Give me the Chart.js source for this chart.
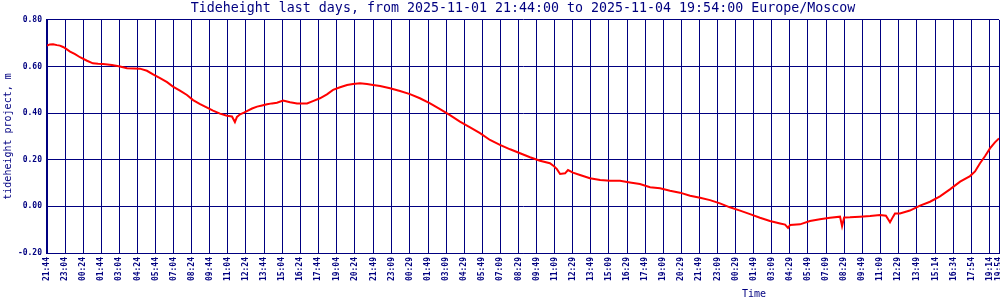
<!DOCTYPE html>
<html>
<head>
<meta charset="utf-8">
<script src="https://cdn.jsdelivr.net/npm/chart.js@4"></script>
<style>
  html, body { margin: 0; padding: 0; background: #fff; overflow: hidden; }
  #tideChart { display: block; }
</style>
</head>
<body>
<canvas id="tideChart" width="1000" height="300"></canvas>
<script>
// Chart data
const chartTitle = 'Tideheight last days, from 2025-11-01 21:44:00 to 2025-11-04 19:54:00 Europe/Moscow';
const startTime = '21:44';

// x tick labels, in order (clock times, day rolls over at midnight)
const tickLabels = [
    '21:44', '23:04', '00:24', '01:44', '03:04', '04:24', '05:44', '07:04', '08:24', '09:44',
    '11:04', '12:24', '13:44', '15:04', '16:24', '17:44', '19:04', '20:24', '21:49', '23:09',
    '00:29', '01:49', '03:09', '04:29', '05:49', '07:09', '08:29', '09:49', '11:09', '12:29',
    '13:49', '15:09', '16:29', '17:49', '19:09', '20:29', '21:49', '23:09', '00:29', '01:49',
    '03:09', '04:29', '05:49', '07:09', '08:29', '09:49', '11:09', '12:29', '13:49', '15:14',
    '16:34', '17:54', '19:14', '19:54'
];

// y ticks
const yTicks = [-0.20, 0.00, 0.20, 0.40, 0.60, 0.80];

// samples: minutes since 2025-11-01 21:44 and tide height in m
const sampleMinutes = [
    0, 13, 27, 44, 57, 71, 80, 102, 124, 146, 177, 203, 226, 248, 287, 323, 354, 385, 411, 442,
    469, 500, 531, 557, 588, 619, 646, 677, 708, 734, 765, 796, 818, 831, 840, 854, 871, 884, 907, 929,
    951, 973, 995, 1017, 1044, 1075, 1106, 1119, 1150, 1176, 1207, 1238, 1265, 1296, 1327, 1353, 1384, 1415, 1442, 1473,
    1517, 1561, 1605, 1649, 1694, 1738, 1782, 1826, 1871, 1915, 1959, 2003, 2048, 2092, 2136, 2180, 2224, 2242, 2255, 2269,
    2291, 2304, 2326, 2357, 2401, 2446, 2490, 2534, 2578, 2622, 2667, 2711, 2755, 2799, 2844, 2888, 2932, 2976, 3020, 3065,
    3109, 3153, 3197, 3242, 3264, 3277, 3286, 3330, 3374, 3418, 3463, 3507, 3516, 3525, 3551, 3595, 3640, 3684, 3710, 3728,
    3741, 3750, 3772, 3816, 3861, 3905, 3949, 3993, 4038, 4082, 4104, 4126, 4148, 4170, 4192, 4210
];
const tideHeight = [
    0.690, 0.695, 0.696, 0.692, 0.690, 0.684, 0.679, 0.664, 0.653, 0.640, 0.625, 0.614, 0.612, 0.611, 0.607, 0.600, 0.593, 0.592, 0.591, 0.582,
    0.567, 0.550, 0.533, 0.514, 0.497, 0.478, 0.456, 0.439, 0.424, 0.411, 0.398, 0.389, 0.386, 0.362, 0.384, 0.395, 0.402, 0.409, 0.420, 0.428,
    0.433, 0.438, 0.442, 0.445, 0.454, 0.447, 0.442, 0.441, 0.442, 0.452, 0.464, 0.481, 0.500, 0.511, 0.521, 0.525, 0.528, 0.525, 0.521, 0.517,
    0.507, 0.495, 0.482, 0.464, 0.442, 0.417, 0.392, 0.364, 0.339, 0.314, 0.285, 0.264, 0.245, 0.228, 0.211, 0.196, 0.185, 0.172, 0.160, 0.139,
    0.142, 0.156, 0.145, 0.135, 0.121, 0.113, 0.110, 0.110, 0.103, 0.096, 0.082, 0.078, 0.067, 0.059, 0.046, 0.037, 0.027, 0.013, -0.004, -0.018,
    -0.033, -0.049, -0.063, -0.073, -0.078, -0.092, -0.080, -0.077, -0.063, -0.055, -0.049, -0.044, -0.085, -0.048, -0.047, -0.044, -0.041, -0.037, -0.040, -0.068,
    -0.045, -0.030, -0.030, -0.018, 0.003, 0.020, 0.043, 0.073, 0.106, 0.130, 0.150, 0.185, 0.215, 0.249, 0.275, 0.292
];

const navy = '#000080';
const monoFont = "'DejaVu Sans Mono', 'Liberation Mono', monospace";

// Turn clock labels into minutes since start (handles midnight rollover)
function toMinutes(t) {
    const parts = t.split(':').map(Number);
    return parts[0] * 60 + parts[1];
}
const startMin = toMinutes(startTime);
let dayShift = 0, lastClock = null;
const tickMinutes = tickLabels.map(t => {
    const clock = toMinutes(t);
    if (lastClock !== null && clock < lastClock) dayShift += 1440;
    lastClock = clock;
    return clock + dayShift - startMin;
});

// Small caption under the time axis (sits off-centre in the original)
const axisCaption = {
    id: 'axisCaption',
    afterDraw(chart) {
        const ctx = chart.ctx;
        ctx.save();
        ctx.font = '10px ' + monoFont;
        ctx.fillStyle = navy;
        ctx.textAlign = 'left';
        ctx.textBaseline = 'middle';
        ctx.fillText('Time', 742, 294);
        ctx.restore();
    }
};

const ctx = document.getElementById('tideChart').getContext('2d');
const tideChart = new Chart(ctx, {
    type: 'line',
    data: {
        datasets: [{
            label: 'tideheight project',
            data: sampleMinutes.map((m, i) => ({ x: m, y: tideHeight[i] })),
            borderColor: '#ff0000',
            borderWidth: 2,
            pointRadius: 0,
            tension: 0,
            fill: false
        }]
    },
    options: {
        responsive: false,
        animation: false,
        layout: { padding: { left: 0, right: 1, top: 0, bottom: 0 } },
        plugins: {
            legend: { display: false },
            tooltip: { enabled: false },
            title: {
                display: true,
                text: chartTitle,
                color: navy,
                fullSize: false,
                font: { family: monoFont, size: 13.3, weight: 'normal' },
                padding: { top: 1, bottom: 3 }
            }
        },
        scales: {
            x: {
                type: 'linear',
                min: tickMinutes[0],
                max: tickMinutes[tickMinutes.length - 1],
                afterBuildTicks: scale => {
                    scale.ticks = tickMinutes.map(v => ({ value: v }));
                },
                afterFit: scale => {
                    scale.height = 47;
                    scale.paddingLeft = 0;
                    scale.paddingRight = 0;
                },
                ticks: {
                    autoSkip: false,
                    minRotation: 90,
                    maxRotation: 90,
                    padding: 4,
                    color: navy,
                    font: { family: monoFont, size: 8, weight: 'bold' },
                    callback: (value, index) => tickLabels[index]
                },
                grid: { color: navy, lineWidth: 1, drawTicks: false },
                border: { color: navy, width: 1 }
            },
            y: {
                type: 'linear',
                min: yTicks[0],
                max: yTicks[yTicks.length - 1],
                afterBuildTicks: scale => {
                    scale.ticks = yTicks.map(v => ({ value: v }));
                },
                afterFit: scale => {
                    scale.width = 47;
                    scale.paddingTop = 0;
                    scale.paddingBottom = 0;
                },
                ticks: {
                    padding: 5,
                    color: navy,
                    font: { family: monoFont, size: 8, weight: 'bold' },
                    callback: value => value.toFixed(2)
                },
                grid: { color: navy, lineWidth: 1, drawTicks: false },
                border: { color: navy, width: 2 },
                title: {
                    display: true,
                    text: 'tideheight project, m',
                    color: navy,
                    font: { family: monoFont, size: 10 },
                    padding: { top: 2, bottom: 0 }
                }
            }
        }
    },
    plugins: [axisCaption]
});
</script>
</body>
</html>
